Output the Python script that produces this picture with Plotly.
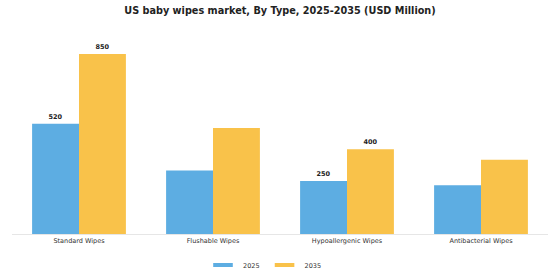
import plotly.graph_objects as go

categories = ["Standard Wipes", "Flushable Wipes", "Hypoallergenic Wipes", "Antibacterial Wipes"]
years = ["2025", "2035"]
values_2025 = [520, 300, 250, 230]
values_2035 = [850, 500, 400, 350]
label_2025 = [True, False, True, False]
label_2035 = [True, False, True, False]

colors = {"2025": "#5DADE2", "2035": "#F9C24A"}
FONT = "DejaVu Sans"

fig = go.Figure()
for name, vals, flags in [("2025", values_2025, label_2025), ("2035", values_2035, label_2035)]:
    fig.add_trace(go.Bar(
        x=categories, y=vals, name=name,
        marker=dict(color=colors[name], line=dict(width=0)),
        text=[f"<b>{v}</b>" if f else "" for v, f in zip(vals, flags)],
        textposition="outside", cliponaxis=False,
        textfont=dict(family=FONT, size=6.5, color="#222222"),
        showlegend=False,
    ))
    # legend proxy (thin wide swatch)
    fig.add_trace(go.Scatter(
        x=[None], y=[None], mode="markers", name=name,
        marker=dict(symbol="line-ew", size=14, color=colors[name],
                    line=dict(color=colors[name], width=4)),
        showlegend=True,
    ))

fig.update_layout(
    width=560, height=280,
    margin=dict(l=12, r=12, t=40, b=46, autoexpand=False),
    paper_bgcolor="white", plot_bgcolor="white",
    barmode="group", bargap=0.3, bargroupgap=0,
    title=dict(text="<b>US baby wipes market, By Type, 2025-2035 (USD Million)</b>",
               x=0.5, xanchor="center", y=1 - 11 / 280, yanchor="middle", yref="container",
               font=dict(family=FONT, size=9.7, color="#222222")),
    font=dict(family=FONT, size=6.5, color="#333333"),
    legend=dict(orientation="h", x=265 / 560, xanchor="center", xref="container",
                y=1 - 265 / 280, yanchor="middle",
                yref="container", font=dict(family=FONT, size=6.5, color="#333333"),
                itemwidth=30, tracegroupgap=0),
    xaxis=dict(showline=True, linecolor="#e6e6e6", linewidth=1, ticks="", showgrid=False,
               automargin=False,
               tickfont=dict(family=FONT, size=6.5, color="#333333")),
    yaxis=dict(visible=False, range=[0, 916], showgrid=False, zeroline=False, automargin=False),
)

fig.write_html("out.html")
